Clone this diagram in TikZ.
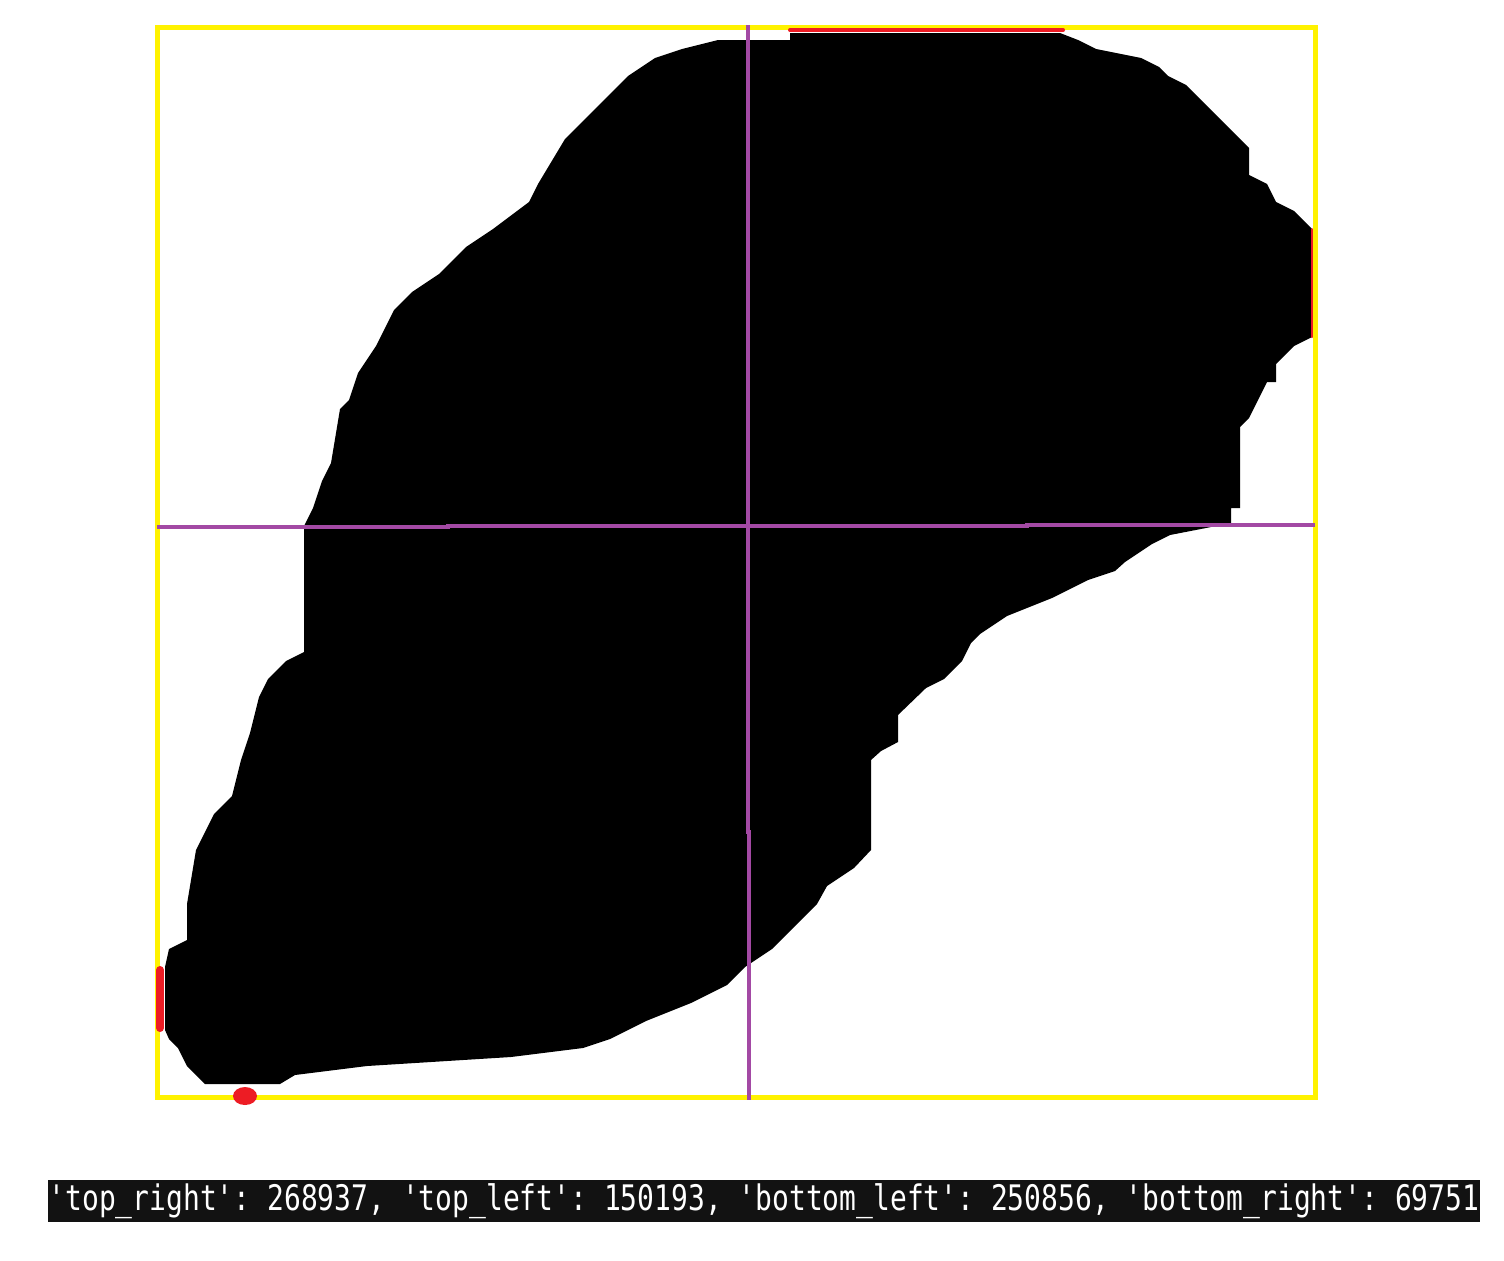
\documentclass[tikz,border=0pt]{standalone}
\usepackage{fontspec}
\usepackage{graphicx}
\setmonofont{DejaVu Sans Mono}
\definecolor{paintyellow}{RGB}{255,242,0}
\definecolor{paintpurple}{RGB}{163,73,164}
\definecolor{paintred}{RGB}{237,28,36}
\begin{document}
\begin{tikzpicture}[x=0.01cm, y=-0.01cm,
    frame/.style={draw=paintyellow, line width=0.05cm},
    quadline/.style={draw=paintpurple, line width=0.04cm},
    redmark/.style={draw=paintred, line cap=round}]
    \useasboundingbox (0,0) rectangle (1504,1260);
    \fill[white] (0,0) rectangle (1504,1260);
    \draw[frame] (157,27) rectangle (1315,1097);
    \fill[black] (790,33) -- (1060,33) -- (1078,40) -- (1096,49) -- (1141,58) -- (1159,67) -- (1168,76)
        -- (1186,85) -- (1204,103) -- (1231,130) -- (1249,148) -- (1249,175) -- (1267,184) -- (1276,202)
        -- (1294,211) -- (1312,229) -- (1312,337) -- (1294,346) -- (1276,364) -- (1276,382) -- (1267,382)
        -- (1258,400) -- (1249,418) -- (1240,427) -- (1240,508) -- (1231,508) -- (1231,523) -- (1206,528)
        -- (1170,535) -- (1152,544) -- (1125,562) -- (1115,571) -- (1088,580) -- (1052,598) -- (1007,616)
        -- (980,634) -- (971,643) -- (962,661) -- (944,679) -- (926,688) -- (898,715) -- (898,742)
        -- (881,751) -- (871,760) -- (871,850) -- (854,868) -- (827,886) -- (817,904) -- (772,949)
        -- (745,967) -- (727,985) -- (691,1003) -- (646,1021) -- (610,1039) -- (583,1048) -- (511,1057)
        -- (367,1066) -- (295,1075) -- (280,1084) -- (205,1084) -- (196,1075) -- (187,1066) -- (178,1048)
        -- (169,1039) -- (165,1030) -- (165,967) -- (169,949) -- (187,940) -- (187,904) -- (196,850)
        -- (205,832) -- (214,814) -- (232,796) -- (241,760) -- (250,733) -- (259,697) -- (268,679)
        -- (286,661) -- (304,652) -- (304,526) -- (313,508) -- (322,481) -- (331,463) -- (340,409)
        -- (349,400) -- (358,373) -- (376,346) -- (394,310) -- (412,292) -- (439,274) -- (466,247)
        -- (493,229) -- (529,202) -- (538,184) -- (565,139) -- (583,121) -- (601,103) -- (628,76)
        -- (655,58) -- (682,49) -- (718,40) -- (790,40) -- cycle;
    \draw[quadline] (157,527) -- (448,527) -- (448,526) -- (1027,526) -- (1027,525) -- (1315,525);
    \draw[quadline] (748,25) -- (748,832) -- (749,832) -- (749,1100);
    \draw[redmark, line width=0.04cm] (790,30) -- (1063,30);
    \draw[redmark, line width=0.02cm] (1312,229) -- (1312,337);
    \draw[redmark, line width=0.08cm] (160,970) -- (160,1028);
    \fill[paintred] (245,1096) ellipse [x radius=12, y radius=9];
    \fill[black!93] (48,1180) rectangle (1480,1222);
    \node[text=white, inner sep=0pt] (counts) at (764,1201)
        {\scalebox{0.795}[1]{\fontsize{10}{10}\selectfont\ttfamily 'top\_right': 268937, 'top\_left': 150193, 'bottom\_left': 250856, 'bottom\_right': 69751}};
\end{tikzpicture}
\end{document}
